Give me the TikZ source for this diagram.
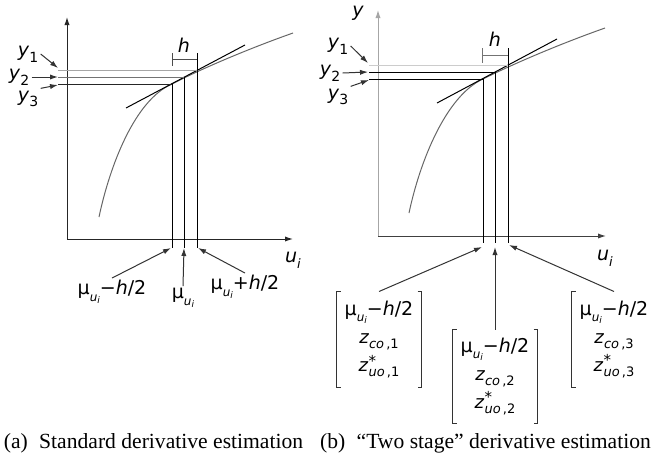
\documentclass[tikz,border=0pt]{standalone}
\usepackage{fontspec}
\setmainfont{Liberation Serif}
\newfontfamily\dvsans{DejaVu Sans}[ItalicFont={DejaVu Sans Oblique}]
\usetikzlibrary{arrows.meta,positioning}

\newcommand{\subfs}{\fontsize{6.5}{7}\selectfont}
\newcommand{\muui}{μ\raisebox{-0.6ex}{\fontsize{6}{6}\selectfont\itshape u\raisebox{-0.35ex}{\fontsize{4.5}{4.5}\selectfont i}}}
\newcommand{\ylab}[1]{\textit{y}\raisebox{-0.55ex}{\fontsize{7}{7}\selectfont #1}}
\newcommand{\ulab}{\textit{u}\raisebox{-0.55ex}{\subfs\textit{i}}}
\newcommand{\zco}[1]{\textit{z}\raisebox{-0.5ex}{\subfs\textit{co}\,,#1}}
\newcommand{\zuo}[1]{\textit{z}\raisebox{-0.5ex}{\subfs\vbox{\offinterlineskip\hbox{\fontsize{7.5}{7.5}\selectfont *}\kern0.5pt\hbox{\textit{uo}\,,#1}}}}

\begin{document}
\begin{tikzpicture}[x=0.5pt, y=-0.5pt, >={Latex[length=4pt,width=2.6pt]}, line width=0.5pt,
    lbl/.style={font=\dvsans\fontsize{9.5}{11}\selectfont, inner sep=1pt},
    vecbox/.style={font=\dvsans\fontsize{9.5}{11}\selectfont, align=center, inner sep=0pt, minimum width=42pt},
    caption/.style={font=\fontsize{10.8}{12}\selectfont, inner sep=0pt},
    curve/.style={black!60},
    arr/.style={->, black!80}]
    \useasboundingbox (0,0) rectangle (651,466);

    % (a) standard derivative estimation
    \draw[<->, black!85] (67,17) -- (67,239) -- (293,239);
    \draw[curve] (99,217) .. controls (110,165) and (135,100) .. (172,84)
                 .. controls (199,70) and (245,50) .. (293,33);
    \draw (126,108) -- (245,45);
    \draw[black!35] (58,70) -- (197,70);
    \draw[black!55] (58,77) -- (184,77);
    \draw[black!85] (58,84) -- (172,84);
    \draw (172,84) -- (172,248);
    \draw (184,77) -- (184,248);
    \draw (197,53) -- (197,248);
    \draw[black!70] (172,53) -- (172,66) (172,59) -- (197,59);
    \node[lbl] (ha) at (184,45) {\textit{h}};
    \node[lbl] (ya1) at (28,54) {\ylab{1}};
    \node[lbl] (ya2) at (19,77) {\ylab{2}};
    \node[lbl] (ya3) at (28,99) {\ylab{3}};
    \coordinate (ta1) at (58,68);
    \coordinate (ta2) at (58,77);
    \coordinate (ta3) at (58,85);
    \draw[arr] (ya1.east) -- (ta1);
    \draw[arr] (ya2.east) -- (ta2);
    \draw[arr] (ya3.north east) -- (ta3);
    \node[lbl] (ua) at (293,260) {\ulab};
    \node[lbl] (mla) at (112,292) {\muui−\textit{h}/2};
    \node[lbl] (mma) at (183,298) {\muui};
    \node[lbl] (mra) at (245,287) {\muui+\textit{h}/2};
    \coordinate (tla) at (171,248);
    \coordinate (tma) at (184,248);
    \coordinate (tra) at (198,248);
    \draw[arr] (mla.north) -- (tla);
    \draw[arr] (mma.north) -- (tma);
    \draw[arr] (mra.north) -- (tra);

    % (b) two stage derivative estimation
    \draw[->, black!35] (378,236) -- (378,10);
    \draw[->, black!75] (378,236) -- (606,236);
    \node[lbl] (yb) at (358,13) {\textit{y}};
    \draw[curve] (409,213) .. controls (420,161) and (446,96) .. (483,79)
                 .. controls (511,65) and (557,45) .. (605,28);
    \draw (437,103) -- (557,39);
    \draw[black!20] (369,65) -- (508,65);
    \draw (369,72) -- (495,72);
    \draw (369,79) -- (483,79);
    \draw (483,79) -- (483,243);
    \draw (495,72) -- (495,243);
    \draw (508,48) -- (508,243);
    \draw[black!55] (482,48) -- (482,63) (482,55) -- (508,55);
    \node[lbl] (hb) at (495,39) {\textit{h}};
    \node[lbl] (yb1) at (338,46) {\ylab{1}};
    \node[lbl] (yb2) at (330,73) {\ylab{2}};
    \node[lbl] (yb3) at (338,97) {\ylab{3}};
    \coordinate (tb1) at (368,63);
    \coordinate (tb2) at (368,72);
    \coordinate (tb3) at (369,80);
    \draw[arr] (yb1.east) -- (tb1);
    \draw[arr] (yb2.east) -- (tb2);
    \draw[arr] (yb3.north east) -- (tb3);
    \node[lbl] (ub) at (605,258) {\ulab};

    \node[vecbox, minimum height=47.5pt] (veca) at (379,339.5)
      {\muui−\textit{h}/2\\[3pt]{\fontsize{9}{11}\selectfont\zco{1}}\\[1.5pt]{\fontsize{9}{11}\selectfont\zuo{1}}};
    \node[vecbox, minimum height=46.5pt] (vecb) at (495,376.5)
      {\muui−\textit{h}/2\\[3pt]{\fontsize{9}{11}\selectfont\zco{2}}\\[1.5pt]{\fontsize{9}{11}\selectfont\zuo{2}}};
    \node[vecbox, minimum height=47.5pt] (vecc) at (614,339.5)
      {\muui−\textit{h}/2\\[3pt]{\fontsize{9}{11}\selectfont\zco{3}}\\[1.5pt]{\fontsize{9}{11}\selectfont\zuo{3}}};
    \foreach \v in {veca,vecb,vecc} {
      \draw[black!80] ([xshift=2pt]\v.north west) -- (\v.north west) -- (\v.south west) -- ([xshift=2pt]\v.south west);
      \draw[black!80] ([xshift=-2pt]\v.north east) -- (\v.north east) -- (\v.south east) -- ([xshift=-2pt]\v.south east);
    }
    \coordinate (tlb) at (482,247);
    \coordinate (tmb) at (495,247);
    \coordinate (trb) at (509,245);
    \draw[arr] (veca.north) -- (tlb);
    \draw[arr] (vecb.north) -- (tmb);
    \draw[arr] (vecc.north) -- (trb);

    \node[caption] (capa) at (153.5,443) {(a)\hspace{3pt} Standard derivative estimation};
    \node[caption] (capb) at (485.5,443) {(b)\hspace{3pt} “Two stage” derivative estimation};
  \end{tikzpicture}
\end{document}
